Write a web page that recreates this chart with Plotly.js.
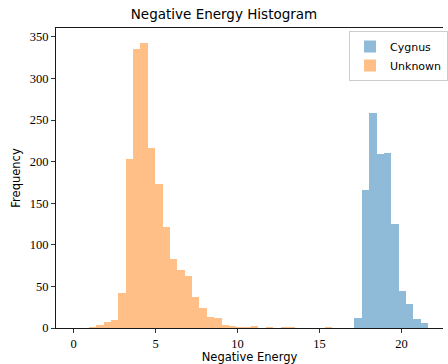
<!DOCTYPE html>
<html>
<head>
<meta charset="utf-8">
<script src="https://cdn.plot.ly/plotly-3.0.1.min.js"></script>
<style>
  html, body { margin: 0; padding: 0; background: #fff; }
  #chart { width: 448px; height: 364px; }
</style>
</head>
<body>
<div id="chart"></div>
<script>
// ---- data ----
const seriesNames = ["Cygnus", "Unknown"];

// Unknown: histogram bins of width 0.45 starting at 0.92
const unknownBinStart = 0.92;
const unknownBinWidth = 0.45;
const unknownCounts = [1, 4, 7, 10, 42, 203, 335, 343, 216, 173, 121, 83, 70, 62, 37, 24,
                       13, 12, 4, 3, 1, 1, 2, 0, 1, 0, 1, 1, 0, 0, 0, 0, 1];

// Cygnus: histogram bins of width 0.448 starting at 17.13
const cygnusBinStart = 17.13;
const cygnusBinWidth = 0.448;
const cygnusCounts = [12, 166, 259, 209, 210, 125, 45, 29, 11, 6];

const xTicks = [0, 5, 10, 15, 20];
const yTicks = [0, 50, 100, 150, 200, 250, 300, 350];

function centers(start, width, n) {
  const out = [];
  for (let i = 0; i < n; i++) out.push(start + width * (i + 0.5));
  return out;
}

const sansFont = "DejaVu Sans, sans-serif";
const serifFont = "Liberation Serif, serif";

const traces = [
  {
    type: "bar",
    name: seriesNames[0],
    x: centers(cygnusBinStart, cygnusBinWidth, cygnusCounts.length),
    y: cygnusCounts,
    width: cygnusBinWidth,
    marker: { color: "rgba(31,119,180,0.5)", line: { width: 0 } },
    hoverinfo: "skip"
  },
  {
    type: "bar",
    name: seriesNames[1],
    x: centers(unknownBinStart, unknownBinWidth, unknownCounts.length),
    y: unknownCounts,
    width: unknownBinWidth,
    marker: { color: "rgba(255,127,14,0.5)", line: { width: 0 } },
    hoverinfo: "skip"
  }
];

const layout = {
  width: 448,
  height: 364,
  margin: { l: 56, r: 0, t: 28, b: 36, pad: 0 },
  paper_bgcolor: "#ffffff",
  plot_bgcolor: "#ffffff",
  barmode: "overlay",
  bargap: 0,
  showlegend: true,
  title: {
    text: "Negative Energy Histogram",
    font: { family: sansFont, size: 13.5, color: "#000" },
    x: 0.5, xanchor: "center",
    y: 1 - 14 / 364, yanchor: "middle", xref: "container", yref: "container"
  },
  xaxis: {
    range: [-1.08, 22.53],
    tickmode: "array",
    tickvals: xTicks,
    ticktext: xTicks.map(String),
    ticks: "outside",
    ticklen: 4,
    tickwidth: 0.8,
    tickcolor: "#000",
    showline: true,
    linecolor: "#000",
    linewidth: 0.9,
    mirror: true,
    showgrid: false,
    zeroline: false,
    tickfont: { family: serifFont, size: 12.5, color: "#000" },
    title: { text: "Negative Energy", font: { family: sansFont, size: 11.5, color: "#000" }, standoff: 2 }
  },
  yaxis: {
    range: [0, 360.6],
    tickmode: "array",
    tickvals: yTicks,
    ticktext: yTicks.map(String),
    ticks: "outside",
    ticklen: 4,
    tickwidth: 0.8,
    tickcolor: "#000",
    showline: true,
    linecolor: "#000",
    linewidth: 0.9,
    mirror: false,
    showgrid: false,
    zeroline: false,
    tickfont: { family: serifFont, size: 12.5, color: "#000" },
    title: { text: "Frequency", font: { family: sansFont, size: 11.5, color: "#000" }, standoff: 6 }
  },
  legend: {
    x: 0.758, xanchor: "left",
    y: 0.99, yanchor: "top",
    bgcolor: "rgba(255,255,255,0.8)",
    bordercolor: "#cccccc",
    borderwidth: 1,
    font: { family: sansFont, size: 11, color: "#000" },
    itemwidth: 30,
    tracegroupgap: 0
  }
};

Plotly.newPlot("chart", traces, layout, { displayModeBar: false, staticPlot: true });
</script>
</body>
</html>
